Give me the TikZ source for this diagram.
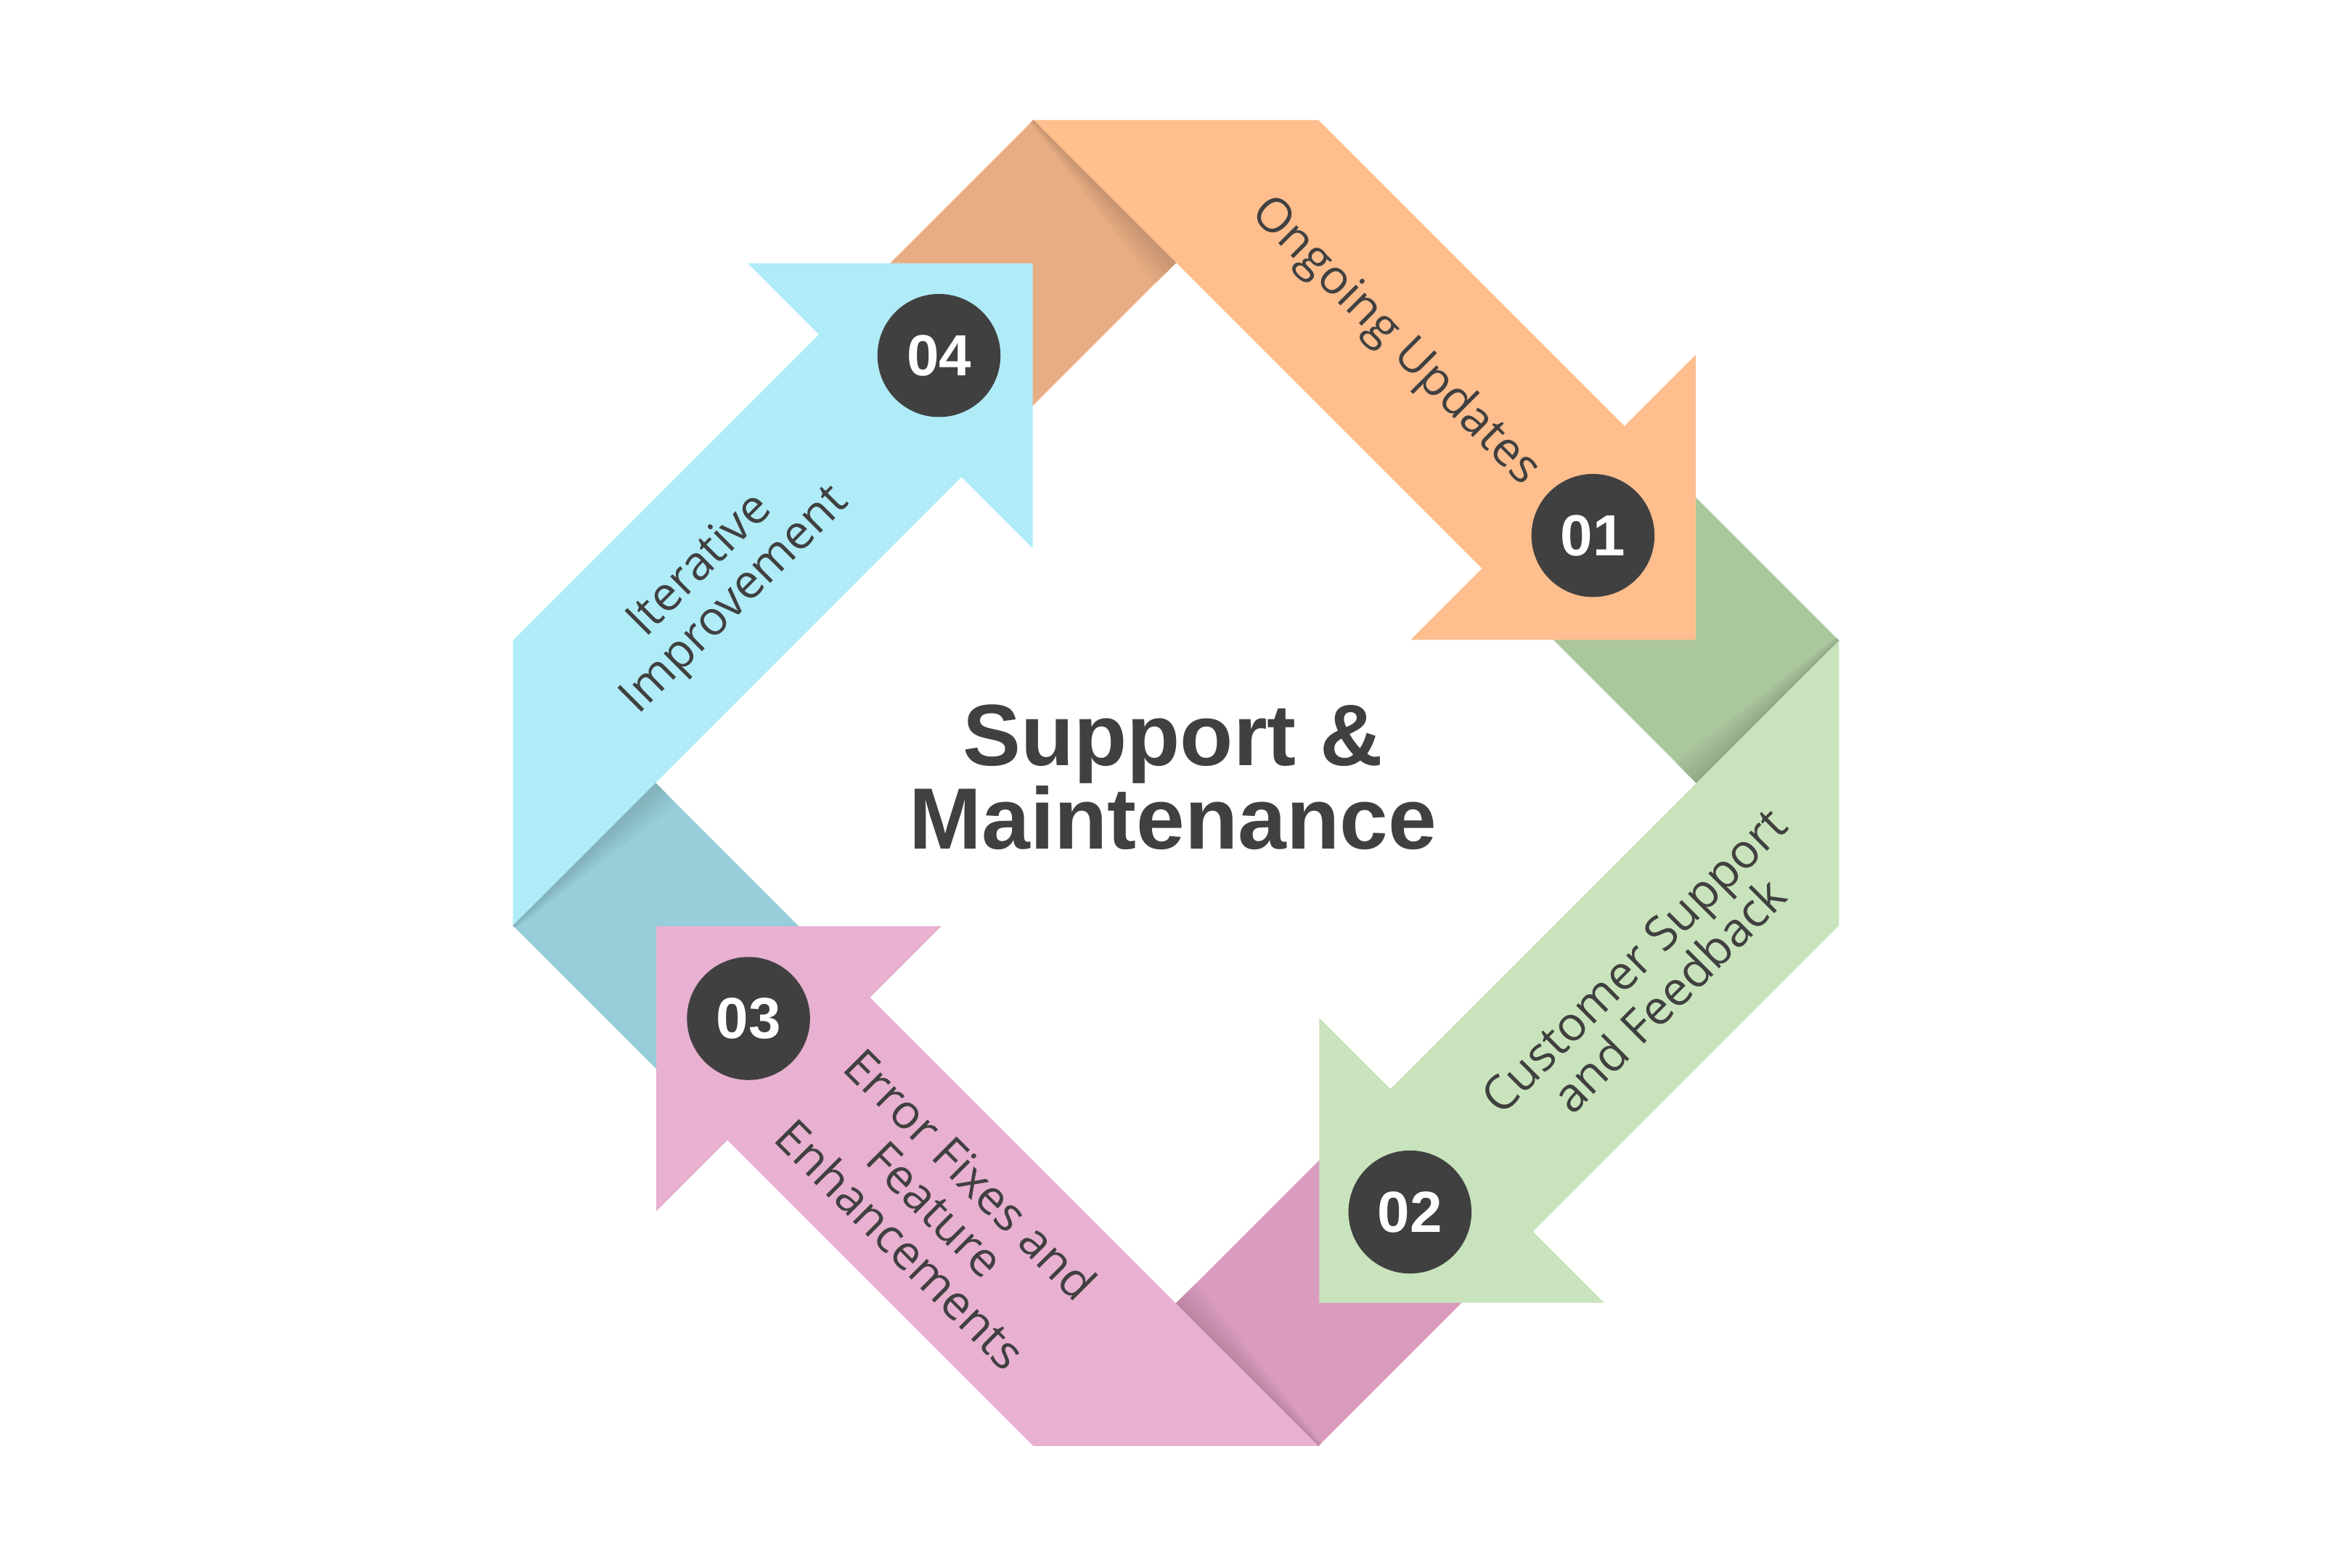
\documentclass[tikz,border=0pt]{standalone}
\usepackage{fontspec}
\setmainfont{Liberation Sans}
\newfontfamily\labelfont{Open Sans}
\usepackage{tikz}
\definecolor{col1}{RGB}{254,190,142}
\definecolor{col1d}{RGB}{232,173,131}
\definecolor{col2}{RGB}{201,228,188}
\definecolor{col2d}{RGB}{171,199,158}
\definecolor{col3}{RGB}{232,176,209}
\definecolor{col3d}{RGB}{218,156,190}
\definecolor{col4}{RGB}{176,236,247}
\definecolor{col4d}{RGB}{150,206,217}
\definecolor{ink}{RGB}{64,64,64}
\tikzset{
  num/.style={circle,fill=ink,text=white,minimum size=8.2mm,inner sep=0pt,
    font=\fontsize{11}{11}\selectfont\bfseries},
  lab/.style={align=center,text=ink,inner sep=0pt,
    font=\labelfont\fontsize{9}{9.4}\selectfont},
  ttl/.style={align=center,text=ink,inner sep=0pt,
    font=\fontsize{16.5}{15.8}\selectfont\bfseries},
}

\begin{document}
\begin{tikzpicture}[x=0.01cm,y=0.01cm]
  \useasboundingbox (-784,-523) rectangle (784,522);
  % back side of each fold, lies under the head of the ribbon before it
  \foreach \r/\c in {0/col1d,-90/col2d,-180/col3d,-270/col4d}{
    \begin{scope}[rotate=\r]
      \fill[\c] (-95,442) -- (0,347) -- (-143,204) -- (-238,299) -- cycle;
      \foreach \i in {1,...,12}{
        \pgfmathsetmacro\w{20*(13-\i)/12}
        \pgfmathtruncatemacro\q{100-\i*14/12}
        \fill[\c!\q!black] (-95,442) -- (0,347) -- ({-0.707*\w},{347-0.707*\w})
          -- ({-95-0.1*\w},{442-0.1*\w}) -- cycle;
      }
    \end{scope}
  }
  % front side of the four ribbons
  \foreach \r/\c in {0/col1,-90/col2,-180/col3,-270/col4}
    \fill[\c,rotate=\r] (-95,442) -- (95,442) -- (299,238) -- (346.5,285.5)
      -- (346.5,95.5) -- (156.5,95.5) -- (204,143) -- cycle;

  \node[num] (n1) at (278,165) {01};
  \node[num] (n2) at (156,-286) {02};
  \node[num] (n3) at (-285,-157) {03};
  \node[num] (n4) at (-158,285) {04};

  \node[lab,rotate=-45] (l1) at (146,294) {Ongoing Updates};
  \node[lab,rotate=45] (l2) at (317,-130) {Customer Support\\and Feedback};
  \node[lab,rotate=-45] (l3) at (-160,-284) {Error Fixes and\\Feature\\Enhancements};
  \node[lab,rotate=45] (l4) at (-305,133) {Iterative\\Improvement};

  \node[ttl] (title) at (-2,4) {Support \&\\Maintenance};
\end{tikzpicture}
\end{document}
